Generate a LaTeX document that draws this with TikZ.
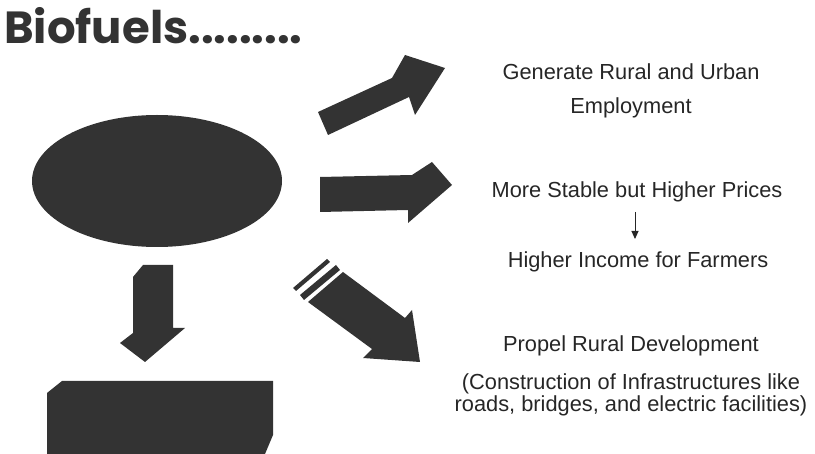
\documentclass[tikz,border=0pt]{standalone}
\usepackage{fontspec}
\setmainfont{Liberation Sans}
\newfontfamily\titlefont{Poppins}
\usetikzlibrary{arrows.meta,shapes.geometric}
\definecolor{dark}{HTML}{333333}
\tikzset{
  shapefill/.style={fill=dark,draw=none},
  label text/.style={font=\fontsize{21.8}{25}\selectfont,anchor=base,inner sep=0pt,text=black!85},
  thinarrow/.style={draw=black!85,line width=0.9pt,-{Triangle[length=8pt,width=7pt]}}
}
\begin{document}
\begin{tikzpicture}[x=1pt,y=-1pt]
\useasboundingbox (0,0) rectangle (815,454);
% title
\node[anchor=base west,inner sep=0pt,text=dark,font=\titlefont\bfseries\fontsize{45}{50}\selectfont] (title) at (4,44) {Biofuels.........};
% ellipse
\node[shapefill,ellipse,minimum width=250pt,minimum height=132pt,inner sep=0pt] (ell) at (157,181) {};
% up-right arrow
\path[shapefill] (318,112) -- (392,78) -- (405,55) -- (445,68) -- (415,115) -- (409,97) -- (328,135) -- cycle;
% right arrow
\path[shapefill] (320,177) -- (412,175) -- (432,162) -- (452,185) -- (408,223) -- (408,210) -- (320,212) -- cycle;
% down arrow
\path[shapefill] (143,265) -- (173,265) -- (173,328) -- (185,328) -- (145,362) -- (120,343) -- (133,333) -- (133,277) -- cycle;
% diagonal arrow with stripes
\path[shapefill] (308,302) -- (343,272) -- (405,318) -- (412,310) -- (420,362) -- (363,358) -- (372,349) -- cycle;
\path[shapefill] (300,295) -- (336,265) -- (340,270) -- (304,300) -- cycle;
\path[shapefill] (293,288) -- (327,259) -- (330,262) -- (296,291) -- cycle;
% bottom block
\path[shapefill] (62,381) -- (273,381) -- (273,435) -- (265,454) -- (47,454) -- (47,393) -- cycle;
% texts
\node[label text] (t1) at (631,80) {Generate Rural and Urban};
\node[label text] (t2) at (631,114) {Employment};
\node[label text] (t3) at (637,198) {More Stable but Higher Prices};
\node[label text] (t4) at (638,268) {Higher Income for Farmers};
\node[label text] (t5) at (631,352) {Propel Rural Development};
\node[label text] (t6) at (631,390) {(Construction of Infrastructures like};
\node[label text] (t7) at (631,412) {roads, bridges, and electric facilities)};
\coordinate (a1) at (635,212);
\coordinate (a2) at (635,239);
\draw[thinarrow] (a1) -- (a2);
\end{tikzpicture}
\end{document}
